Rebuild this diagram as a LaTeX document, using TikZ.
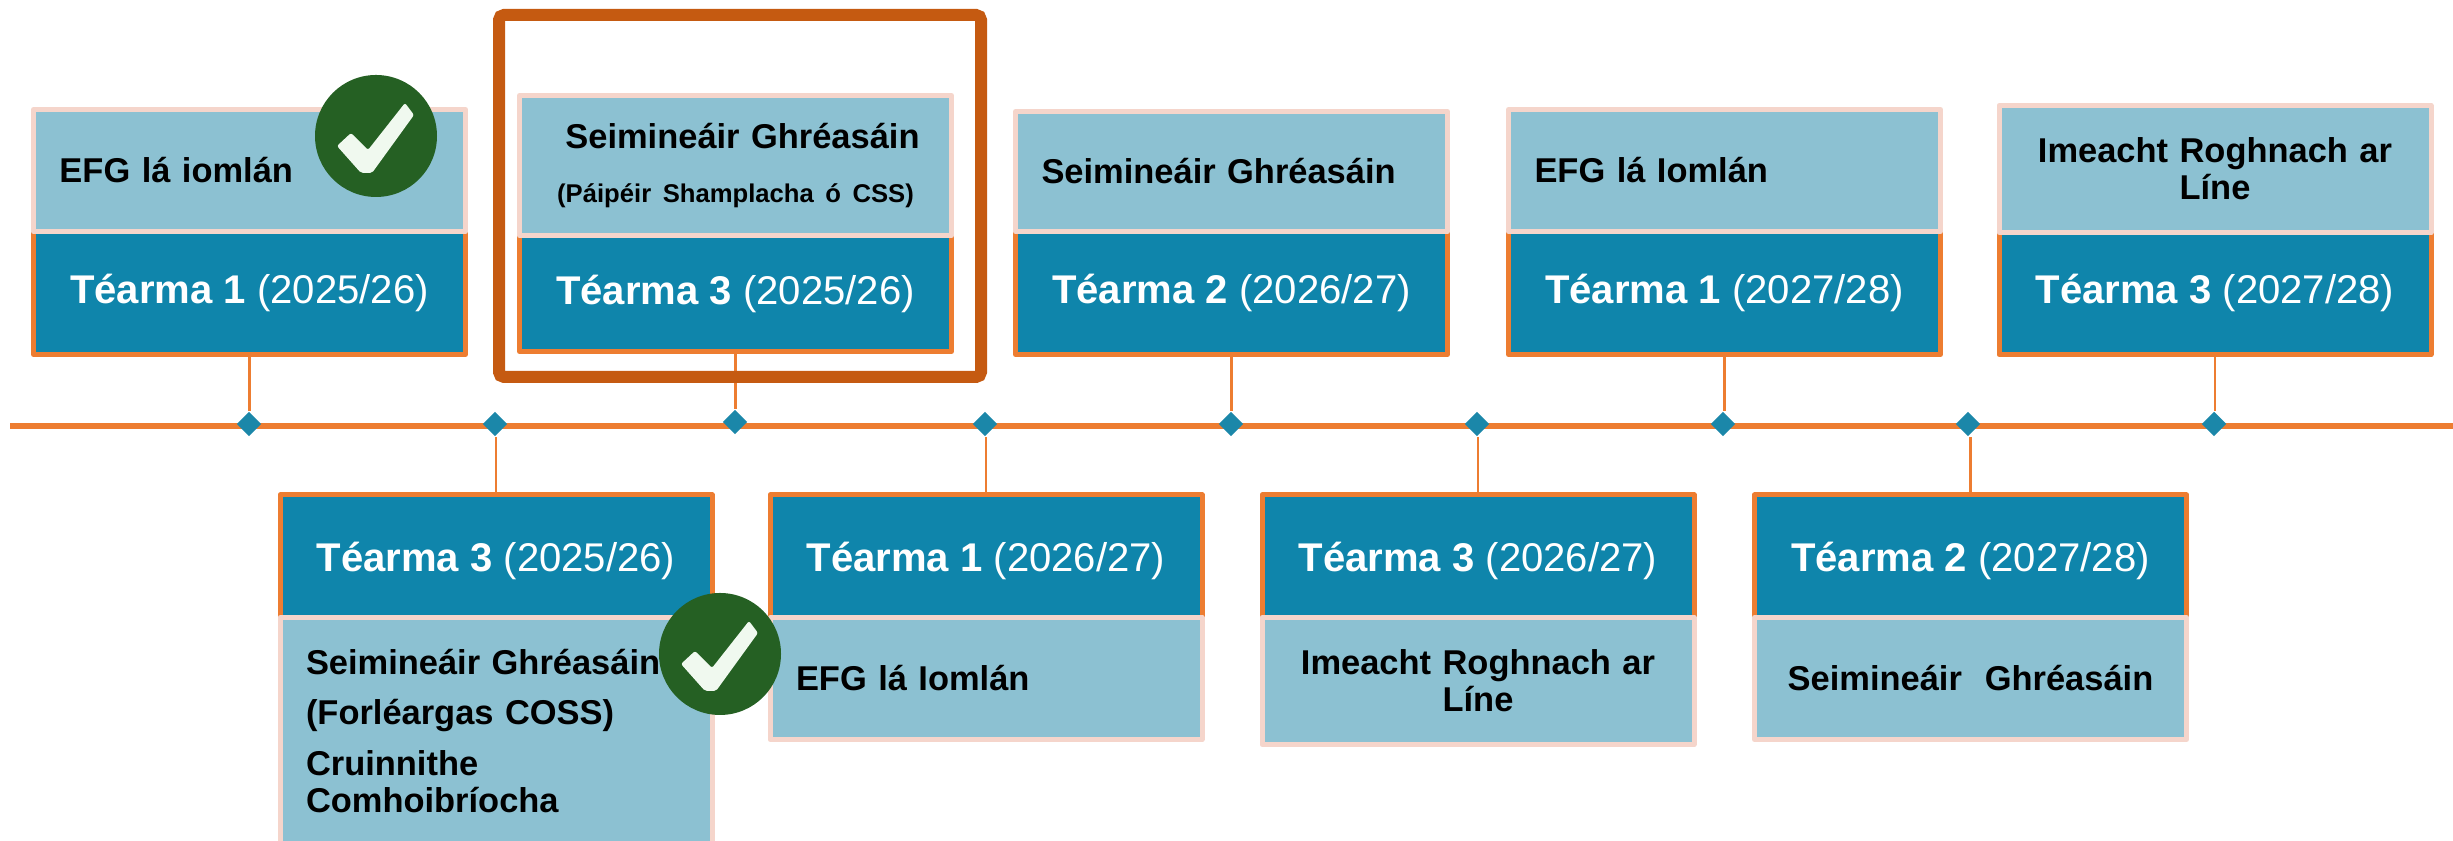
\documentclass[tikz,border=0pt]{standalone}
\usepackage{fontspec}
\setmainfont{Liberation Sans}
\usetikzlibrary{shapes.geometric}

\definecolor{termblue}{HTML}{0F85AB}
\definecolor{eventblue}{HTML}{8CC1D2}
\definecolor{lineorange}{HTML}{ED7D31}
\definecolor{framebrown}{HTML}{C55A11}
\definecolor{eventpink}{HTML}{F5D5CB}
\definecolor{tickgreen}{HTML}{256023}
\definecolor{tickwhite}{HTML}{F0F9EF}
\definecolor{markerblue}{HTML}{1B87A9}

\tikzset{
  termbox/.style={draw=lineorange,fill=termblue,text=white,line width=0.05cm,line join=round,
    minimum width=4.32cm,minimum height=1.23cm,inner sep=0pt,font=\fontsize{11.4}{13}\selectfont},
  lowerterm/.style={termbox,text height=8.5pt,text depth=0pt},
  eventbox/.style={draw=eventpink,fill=eventblue,line width=0.05cm,line join=round,
    minimum width=4.32cm,inner xsep=0.26cm,inner ysep=0pt,text width=3.8cm,
    font=\fontsize{9.8}{10.5}\selectfont\bfseries},
  marker/.style={shape=diamond,fill=markerblue,minimum size=0.25cm,inner sep=0pt},
  stem/.style={draw=lineorange,line width=0.6pt},
  tickdisc/.style={circle,fill=tickgreen,minimum size=1.22cm,inner sep=0pt},
  ticksign/.pic={\fill[tickwhite,rounded corners=0.6pt] (-.39,-.10) -- (-.25,.03) -- (-.08,-.14)
    -- (.29,.33) -- (.38,.21) -- (-.04,-.37) -- (-.15,-.37) -- cycle;}
}

\begin{document}
\begin{tikzpicture}
            \clip (0,0) rectangle (24.53,8.41);
            \useasboundingbox (0,0) rectangle (24.53,8.41);

            % Time line
            \coordinate (lineStart) at (0.1,4.15);
            \coordinate (lineEnd) at (24.53,4.15);
            \draw[lineorange,line width=0.06cm] (lineStart) -- (lineEnd);

            % Term boxes
            \node[termbox] (term1) at (2.495,5.48) {\textbf{Téarma 1} (2025/26)};
            \node[lowerterm] (term2) at (4.96,2.845) {\textbf{Téarma 3} (2025/26)};
            \node[termbox,minimum height=1.16cm] (term3) at (7.355,5.475) {\textbf{Téarma 3} (2025/26)};
            \node[lowerterm] (term4) at (9.86,2.845) {\textbf{Téarma 1} (2026/27)};
            \node[termbox] (term5) at (12.315,5.48) {\textbf{Téarma 2} (2026/27)};
            \node[lowerterm] (term6) at (14.78,2.845) {\textbf{Téarma 3} (2026/27)};
            \node[termbox] (term7) at (17.245,5.48) {\textbf{Téarma 1} (2027/28)};
            \node[lowerterm] (term8) at (19.705,2.845) {\textbf{Téarma 2} (2027/28)};
            \node[termbox] (term9) at (22.15,5.48) {\textbf{Téarma 3} (2027/28)};

            % Event boxes
            \node[eventbox,align=left,minimum height=1.22cm] (event1) at (2.495,6.705) {EFG lá iomlán};
            \node[eventbox,align=left,minimum height=2.27cm] (event2) at (4.96,1.10)
              {Seimineáir Ghréasáin\\[4pt](Forléargas COSS)\\[4pt]Cruinnithe\\Comhoibríocha};
            \node[eventbox,align=center,minimum height=1.40cm] (event3) at (7.355,6.755)
              {\hspace*{0.14cm}Seimineáir Ghréasáin\\[4.8pt]{\fontsize{7.3}{9}\selectfont (Páipéir Shamplacha ó CSS)}};
            \node[eventbox,align=left,minimum height=1.22cm] (event4) at (9.86,1.625) {EFG lá Iomlán};
            \node[eventbox,align=left,minimum height=1.20cm] (event5) at (12.315,6.695) {Seimineáir Ghréasáin};
            \node[eventbox,align=center,minimum height=1.27cm] (event6) at (14.78,1.60) {Imeacht Roghnach ar\\Líne};
            \node[eventbox,align=left,minimum height=1.22cm] (event7) at (17.245,6.705) {EFG lá Iomlán};
            \node[eventbox,align=center,minimum height=1.22cm] (event8) at (19.705,1.625) {Seimineáir\ \ Ghréasáin};
            \node[eventbox,align=center,minimum height=1.27cm] (event9) at (22.15,6.72) {Imeacht Roghnach ar\\Líne};

            % Markers on the line
            \node[marker] (mark1) at (2.49,4.17) {};
            \node[marker] (mark2) at (4.95,4.17) {};
            \node[marker] (mark3) at (7.35,4.19) {};
            \node[marker] (mark4) at (9.85,4.17) {};
            \node[marker] (mark5) at (12.31,4.17) {};
            \node[marker] (mark6) at (14.77,4.17) {};
            \node[marker] (mark7) at (17.23,4.17) {};
            \node[marker] (mark8) at (19.68,4.17) {};
            \node[marker] (mark9) at (22.14,4.17) {};

            % Stems from boxes to markers
            \draw[stem] (term1.south) -- (term1.south |- mark1.north);
            \draw[stem] (term2.north) -- (term2.north |- mark2.south);
            \draw[stem] (term3.south) -- (term3.south |- mark3.north);
            \draw[stem] (term4.north) -- (term4.north |- mark4.south);
            \draw[stem] (term5.south) -- (term5.south |- mark5.north);
            \draw[stem] (term6.north) -- (term6.north |- mark6.south);
            \draw[stem] (term7.south) -- (term7.south |- mark7.north);
            \draw[stem] (term8.north) -- (term8.north |- mark8.south);
            \draw[stem] (term9.south) -- (term9.south |- mark9.north);

            % Frame round the third term
            \node[draw=framebrown,line width=0.12cm,rounded corners=0.05cm,minimum width=4.82cm,minimum height=3.62cm] (frame3) at (7.40,6.45) {};

            % Ticks
            \node[tickdisc] (tick1) at (3.76,7.05) {};
            \pic at (tick1) {ticksign};
            \node[tickdisc] (tick2) at (7.20,1.87) {};
            \pic at (tick2) {ticksign};
\end{tikzpicture}
\end{document}
